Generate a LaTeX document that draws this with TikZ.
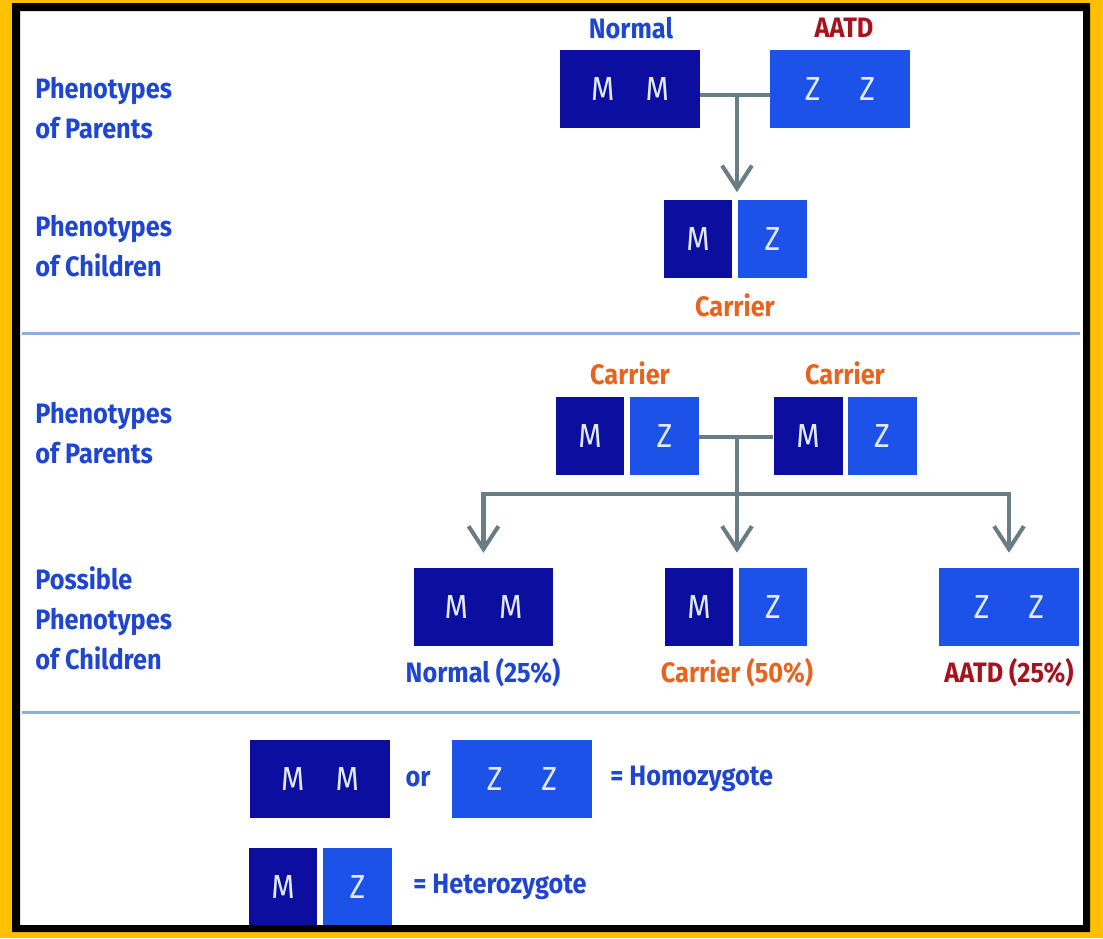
\documentclass[tikz,border=0pt]{standalone}
\usepackage{fontspec}
\setmainfont[FakeStretch=0.9]{Fira Sans}
\usetikzlibrary{arrows.meta}

\definecolor{mblue}{RGB}{12,14,160}
\definecolor{zblue}{RGB}{28,82,232}
\definecolor{txtblue}{RGB}{30,70,210}
\definecolor{carrierorange}{RGB}{232,100,30}
\definecolor{aatdred}{RGB}{165,20,30}
\definecolor{linkgray}{RGB}{105,125,132}
\definecolor{rulecol}{RGB}{140,175,225}
\definecolor{framey}{RGB}{255,192,0}
\definecolor{letter}{RGB}{225,234,255}

\newcommand{\dbl}[1]{\makebox[31pt]{#1}\makebox[31pt]{#1}}

\tikzset{
  txt/.style={font=\bfseries\fontsize{16}{22.7}\selectfont, inner sep=0pt},
  side/.style={txt, text=txtblue, anchor=west, align=left},
  cell/.style={font=\fontsize{19}{22}\selectfont, inner sep=0pt, text=letter},
  homo/.style={cell, minimum width=2.8cm, minimum height=1.56cm},
  hetero/.style={cell, minimum width=1.38cm, minimum height=1.56cm},
  link/.style={draw=linkgray, line width=2.3pt},
  arr/.style={link, -{Straight Barb[length=13pt,width=17pt]}},
}

\begin{document}
\begin{tikzpicture}[x=0.02cm, y=-0.02cm]
    \useasboundingbox (0,0) rectangle (1103,938);
    % background
    \fill[framey] (0,0) rectangle (1103,938);
    \fill[white] (20,11) rectangle (1083,925);

    % dividers
    \draw[rulecol, line width=1.7pt] (22,333) -- (1080,333);
    \draw[rulecol, line width=1.7pt] (22,712) -- (1080,712);

    % left labels
    \node[side] (lp1) at (35,108) {Phenotypes\\of Parents};
    \node[side] (lc1) at (35,246) {Phenotypes\\of Children};
    \node[side] (lp2) at (35,433) {Phenotypes\\of Parents};
    \node[side] (lc2) at (35,618) {Possible\\Phenotypes\\of Children};

    % first cross
    \node[txt, text=txtblue] (normA) at (631,28) {Normal};
    \node[txt, text=aatdred] (aatdA) at (844,28) {AATD};
    \node[homo, fill=mblue] (mmA) at (630,89) {\dbl{M}};
    \node[homo, fill=zblue] (zzA) at (840,89) {\dbl{Z}};
    \node[hetero, fill=mblue] (mA) at (698,238.5) {M};
    \node[hetero, fill=zblue] (zA) at (772.5,238.5) {Z};
    \node[txt, text=carrierorange] (carA) at (735,305) {Carrier};

    \coordinate (jA) at (737,95);
    \draw[link] (mmA.east |- jA) -- (zzA.west |- jA);
    \draw[arr, shorten >=4pt] (jA) -- (jA |- mA.north);

    % second cross
    \node[txt, text=carrierorange] (carB) at (630,373) {Carrier};
    \node[txt, text=carrierorange] (carC) at (845,373) {Carrier};
    \node[hetero, fill=mblue] (mB) at (590,435.5) {M};
    \node[hetero, fill=zblue] (zB) at (664.5,435.5) {Z};
    \node[hetero, fill=mblue] (mC) at (808,435.5) {M};
    \node[hetero, fill=zblue] (zC) at (882,435.5) {Z};

    \node[homo, fill=mblue] (cMM) at (483.5,607) {\dbl{M}};
    \node[hetero, fill=mblue] (mD) at (699,607) {M};
    \node[hetero, fill=zblue] (zD) at (773,607) {Z};
    \node[homo, fill=zblue] (cZZ) at (1009,607) {\dbl{Z}};

    \node[txt, text=txtblue] (normD) at (483,673) {Normal (25\%)};
    \node[txt, text=carrierorange] (carD) at (737,673) {Carrier (50\%)};
    \node[txt, text=aatdred] (aatdD) at (1009,673) {AATD (25\%)};

    \coordinate (jB) at (737,437);
    \coordinate (bar) at (737,494);
    \draw[link] (zB.east |- jB) -- (mC.west |- jB);
    \draw[link, line cap=rect] (cMM.north |- bar) -- (cZZ.north |- bar);
    \draw[arr, shorten >=8.5pt] (jB) -- (jB |- mD.north);
    \foreach \c in {cMM,cZZ}
        \draw[arr, shorten >=8.5pt] (\c.north |- bar) -- (\c.north);

    % key
    \node[homo, fill=mblue] (kMM) at (320,779) {\dbl{M}};
    \node[txt, text=txtblue] (kor) at (418,779) {or};
    \node[homo, fill=zblue] (kZZ) at (522,779) {\dbl{Z}};
    \node[txt, text=txtblue, anchor=west] (khom) at (610,779) {= Homozygote};
    \node[hetero, fill=mblue] (kM) at (283,887) {M};
    \node[hetero, fill=zblue] (kZ) at (357.5,887) {Z};
    \node[txt, text=txtblue, anchor=west] (khet) at (413,887) {= Heterozygote};

    % frame
    \fill[black, even odd rule] (12,3) rectangle (1090,932) (20,11) rectangle (1083,925);
\end{tikzpicture}
\end{document}
